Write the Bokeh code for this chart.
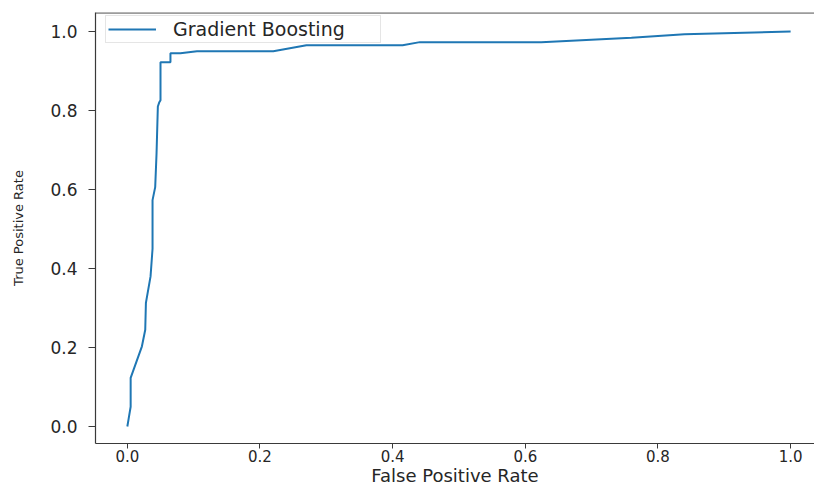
from bokeh.plotting import figure
from bokeh.models import Range1d, FixedTicker, PrintfTickFormatter, Span, Legend, LegendItem
from bokeh.embed import file_html
from bokeh.resources import INLINE

# ROC curve data
fpr = [0.0, 0.002, 0.005, 0.005, 0.022, 0.027, 0.028, 0.035, 0.038, 0.038, 0.042, 0.044,
       0.046, 0.048, 0.05, 0.05, 0.065, 0.065, 0.08, 0.105, 0.22, 0.27, 0.415, 0.441,
       0.624, 0.76, 0.84, 1.0]
tpr = [0.0, 0.02, 0.05, 0.123, 0.203, 0.245, 0.313, 0.38, 0.45, 0.573, 0.606, 0.69,
       0.81, 0.82, 0.826, 0.922, 0.922, 0.945, 0.945, 0.95, 0.95, 0.965, 0.965, 0.973,
       0.973, 0.984, 0.993, 1.0]
series_name = "Gradient Boosting"
x_ticks = [0.0, 0.2, 0.4, 0.6, 0.8, 1.0]
y_ticks = [0.0, 0.2, 0.4, 0.6, 0.8, 1.0]
x_title = "False Positive Rate"
y_title = "True Positive Rate"

TEXT = "#262626"
SPINE = "#3a3a3a"
Y_TOP = 1.048

p = figure(width=814, height=488, output_backend="svg", toolbar_location=None,
           x_range=Range1d(-0.048, 1.036), y_range=Range1d(-0.043, Y_TOP),
           min_border_left=95, min_border_right=0, min_border_top=12, min_border_bottom=40)
p.outline_line_color = None
p.xgrid.visible = False
p.ygrid.visible = False
p.background_fill_color = "white"
p.border_fill_color = "white"

r = p.line(fpr, tpr, line_color="#1f77b4", line_width=2)

# top spine
p.add_layout(Span(location=Y_TOP - 0.001, dimension="width", line_color=SPINE, line_width=1.2))

for ax, ticks in ((p.xaxis[0], x_ticks), (p.yaxis[0], y_ticks)):
    ax.ticker = FixedTicker(ticks=ticks)
    ax.formatter = PrintfTickFormatter(format="%.1f")
    ax.minor_tick_line_color = None
    ax.axis_line_color = SPINE
    ax.axis_line_width = 1.2
    ax.major_tick_line_color = SPINE
    ax.major_tick_in = 0
    ax.major_label_text_color = TEXT
    ax.major_label_text_font = "DejaVu Sans"
    ax.axis_label_text_color = TEXT
    ax.axis_label_text_font = "DejaVu Sans"
    ax.axis_label_text_font_style = "normal"

p.xaxis.major_tick_out = 5
p.xaxis.major_label_standoff = 1
p.xaxis.major_label_text_font_size = "15px"
p.xaxis.axis_label = x_title
p.xaxis.axis_label_text_font_size = "18px"
p.xaxis.axis_label_standoff = 0

p.yaxis.major_tick_out = 7
p.yaxis.major_label_standoff = 11
p.yaxis.major_label_text_font_size = "17px"
p.yaxis.axis_label = y_title
p.yaxis.axis_label_text_font_size = "13px"
p.yaxis.axis_label_standoff = 21

legend = Legend(items=[LegendItem(label=series_name, renderers=[r])], location=(10, 400))
legend.padding = 2
legend.spacing = 0
legend.glyph_width = 48
legend.label_height = 20
legend.label_width = 205
legend.label_standoff = 17
legend.label_text_font = "DejaVu Sans"
legend.label_text_font_size = "19px"
legend.label_text_color = TEXT
legend.border_line_color = "#cccccc"
legend.border_line_width = 1
legend.background_fill_alpha = 0.8
p.add_layout(legend)

open("out.html", "w").write(file_html(p, INLINE))
